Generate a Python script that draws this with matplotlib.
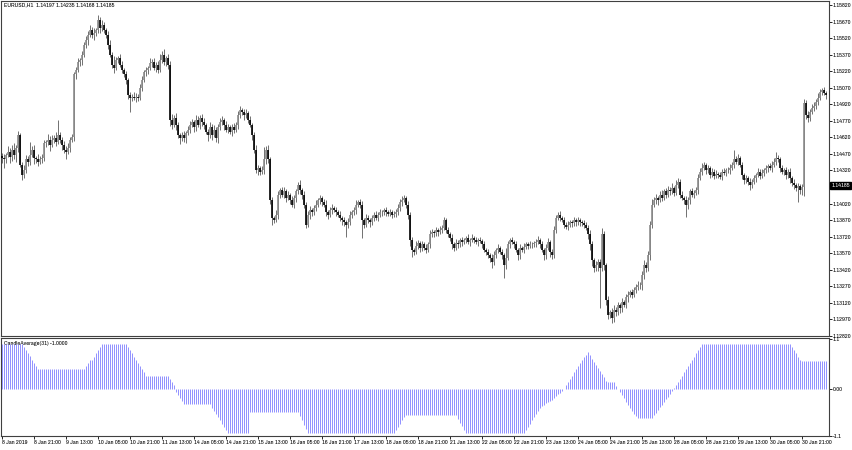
import numpy as np
import matplotlib
matplotlib.use("Agg")
import matplotlib.pyplot as plt
import matplotlib.transforms as mtransforms

# EURUSD H1, 8 Jan 2019 05:00 .. 31 Jan 2019, prices in pips above 1.1000
close_pips = [
    443, 442, 446, 449, 444, 451, 446, 452, 464, 437, 428, 432, 442, 440, 446, 451, 443, 442, 440, 442,
    443, 457, 458, 460, 455, 460, 461, 458, 464, 460, 455, 451, 449, 452, 460, 462, 519, 523, 530, 532,
    537, 546, 550, 555, 559, 555, 557, 559, 568, 561, 564, 559, 555, 546, 537, 528, 525, 532, 534, 528,
    523, 519, 514, 500, 498, 499, 498, 499, 498, 507, 514, 521, 523, 525, 529, 530, 525, 528, 523, 532,
    537, 530, 534, 528, 478, 473, 480, 473, 464, 461, 464, 461, 466, 469, 473, 476, 471, 478, 473, 480,
    476, 473, 467, 464, 471, 464, 469, 461, 471, 476, 478, 473, 469, 471, 467, 471, 469, 473, 482, 487,
    485, 482, 484, 478, 473, 464, 451, 432, 434, 431, 432, 442, 451, 442, 405, 389, 387, 392, 410, 414,
    410, 413, 407, 410, 405, 401, 407, 413, 419, 414, 410, 401, 383, 392, 396, 394, 398, 401, 405, 407,
    403, 401, 394, 392, 396, 398, 396, 394, 392, 389, 387, 385, 383, 385, 392, 394, 396, 401, 403, 401,
    387, 383, 389, 387, 385, 389, 392, 389, 392, 394, 394, 396, 394, 393, 394, 392, 393, 394, 398, 403,
    405, 407, 401, 392, 369, 360, 358, 364, 366, 362, 365, 362, 360, 365, 374, 376, 375, 378, 376, 378,
    380, 387, 378, 374, 371, 365, 362, 366, 365, 369, 367, 369, 371, 367, 369, 371, 369, 367, 369, 368,
    365, 360, 358, 355, 353, 349, 355, 360, 362, 358, 355, 346, 353, 365, 369, 367, 365, 360, 355, 362,
    360, 363, 365, 364, 365, 365, 366, 367, 369, 365, 360, 355, 362, 367, 358, 355, 378, 389, 392, 389,
    387, 383, 381, 383, 385, 384, 387, 385, 387, 385, 384, 383, 380, 374, 365, 351, 344, 346, 349, 344,
    374, 346, 315, 301, 304, 298, 306, 304, 310, 307, 313, 310, 317, 319, 322, 319, 324, 326, 328, 328,
    337, 346, 344, 355, 383, 401, 405, 407, 405, 410, 407, 413, 410, 414, 413, 416, 412, 419, 422, 410,
    407, 405, 401, 405, 413, 410, 412, 414, 425, 431, 434, 437, 432, 434, 428, 431, 427, 429, 428, 426,
    431, 430, 432, 432, 434, 437, 442, 440, 443, 437, 428, 423, 425, 422, 419, 422, 425, 428, 431, 427,
    430, 432, 434, 436, 434, 437, 440, 443, 442, 434, 431, 432, 428, 431, 425, 421, 419, 416, 418, 414,
    417, 493, 482, 480, 485, 489, 490, 494, 498, 503, 505, 502, 500,
]
first_open_pips = 445

upper_wick = [
    3, 4, 2, 5, 3, 4, 6, 3, 4, 2, 3, 5, 4, 3, 12, 3, 4, 2, 5, 3,
    4, 3, 2, 5, 3, 4, 3, 6, 14, 3, 2, 4, 3, 5, 2, 3, 2, 3, 4, 2,
    3, 2, 4, 3, 5, 3, 4, 2, 5, 3, 4, 3, 2, 3, 4, 2, 8, 3, 2, 4,
    3, 2, 3, 2, 3, 2, 4, 3, 2, 3, 4, 2, 3, 2, 5, 3, 4, 2, 3, 6,
    3, 5, 2, 4, 3, 5, 2, 4, 3, 2, 3, 4, 2, 3, 4, 3, 2, 4, 3, 2,
    3, 4, 2, 3, 5, 3, 4, 2, 3, 4, 3, 2, 4, 3, 2, 3, 4, 3, 4, 3,
    2, 3, 4, 2, 3, 2, 3, 4, 3, 2, 4, 11, 3, 4, 2, 3, 2, 4, 3, 2,
    3, 4, 2, 3, 2, 4, 3, 2, 3, 4, 2, 3, 2, 3, 4, 2, 3, 4, 2, 3,
    2, 3, 4, 2, 3, 4, 2, 3, 2, 3, 2, 3, 2, 4, 3, 2, 3, 4, 2, 3,
    3, 2, 4, 3, 2, 3, 2, 3, 2, 3, 2, 2, 3, 2, 3, 2, 2, 3, 4, 3,
    4, 3, 2, 3, 2, 3, 2, 4, 3, 2, 3, 2, 3, 2, 4, 3, 2, 3, 2, 4,
    3, 3, 2, 3, 2, 3, 2, 4, 3, 2, 3, 2, 2, 3, 2, 3, 2, 3, 2, 3,
    2, 3, 2, 3, 2, 3, 4, 2, 3, 2, 3, 2, 9, 3, 2, 3, 2, 3, 2, 3,
    2, 3, 2, 2, 3, 2, 2, 3, 4, 2, 3, 2, 3, 4, 2, 3, 4, 3, 2, 3,
    2, 3, 2, 3, 2, 2, 3, 2, 3, 2, 2, 3, 2, 3, 4, 3, 2, 4, 3, 3,
    6, 3, 2, 3, 2, 3, 4, 2, 3, 2, 3, 2, 3, 4, 2, 3, 2, 3, 4, 3,
    4, 5, 3, 4, 3, 5, 3, 4, 2, 3, 4, 2, 3, 4, 3, 5, 2, 4, 3, 2,
    3, 2, 4, 3, 2, 3, 2, 3, 4, 3, 5, 3, 2, 3, 2, 3, 2, 3, 2, 3,
    2, 3, 2, 3, 4, 3, 9, 3, 4, 2, 3, 2, 3, 2, 3, 2, 3, 2, 3, 2,
    3, 2, 3, 2, 3, 4, 3, 6, 3, 2, 3, 2, 3, 2, 3, 2, 3, 2, 3, 2,
    3, 4, 3, 4, 3, 3, 4, 3, 4, 3, 2, 3, 2,
]
lower_wick = [
    4, 8, 3, 2, 5, 3, 4, 6, 3, 2, 5, 3, 2, 4, 3, 2, 5, 3, 4, 2,
    3, 2, 4, 3, 5, 2, 3, 4, 2, 3, 4, 3, 7, 2, 3, 2, 3, 4, 2, 3,
    4, 2, 3, 4, 2, 3, 5, 3, 2, 4, 3, 2, 3, 4, 2, 3, 5, 2, 3, 2,
    3, 2, 4, 3, 13, 3, 2, 4, 3, 2, 3, 2, 3, 4, 2, 3, 2, 4, 3, 2,
    3, 2, 3, 4, 6, 3, 2, 4, 3, 5, 2, 3, 4, 2, 3, 2, 4, 3, 2, 3,
    4, 3, 2, 5, 3, 4, 2, 3, 4, 2, 3, 4, 2, 3, 2, 4, 3, 2, 3, 2,
    3, 4, 2, 3, 2, 4, 3, 2, 4, 3, 2, 3, 4, 3, 3, 6, 3, 2, 4, 3,
    2, 3, 4, 2, 3, 2, 3, 4, 2, 3, 4, 3, 3, 2, 4, 3, 2, 3, 2, 3,
    3, 2, 3, 4, 2, 3, 2, 3, 2, 3, 4, 3, 11, 3, 2, 3, 2, 3, 2, 3,
    16, 3, 2, 3, 4, 2, 3, 2, 3, 2, 3, 2, 3, 2, 2, 3, 2, 3, 2, 3,
    3, 2, 3, 4, 5, 6, 3, 2, 3, 4, 3, 2, 3, 2, 3, 2, 3, 2, 3, 2,
    3, 2, 3, 2, 3, 4, 3, 2, 3, 2, 3, 2, 3, 2, 3, 2, 3, 2, 3, 2,
    3, 2, 3, 2, 4, 5, 3, 2, 3, 2, 3, 11, 3, 2, 3, 2, 3, 2, 4, 3,
    2, 3, 2, 3, 2, 3, 2, 3, 2, 3, 2, 4, 3, 2, 4, 3, 2, 3, 2, 3,
    2, 3, 2, 3, 2, 3, 2, 3, 2, 3, 2, 3, 2, 4, 5, 6, 4, 3, 5, 37,
    3, 4, 5, 4, 3, 4, 3, 4, 3, 4, 3, 2, 3, 4, 2, 3, 2, 3, 2, 3,
    4, 3, 4, 3, 4, 3, 2, 3, 4, 2, 3, 2, 3, 2, 3, 2, 3, 2, 3, 3,
    2, 3, 11, 4, 3, 2, 3, 2, 3, 2, 3, 2, 3, 2, 3, 2, 3, 2, 3, 2,
    3, 2, 3, 2, 3, 2, 3, 2, 3, 2, 4, 3, 2, 3, 5, 3, 2, 3, 2, 3,
    2, 3, 2, 3, 2, 3, 2, 3, 2, 3, 2, 3, 4, 3, 4, 3, 4, 3, 13, 3,
    4, 8, 3, 4, 3, 2, 3, 2, 3, 2, 3, 2, 3,
]

# CandleAverage(31) histogram
indicator = [
    1.0, 1.0, 1.0, 1.0, 1.0, 1.0, 1.0, 1.0, 1.0, 1.0, 1.0, 0.93, 0.86, 0.79, 0.72, 0.64, 0.57, 0.50, 0.43, 0.43,
    0.43, 0.43, 0.43, 0.43, 0.43, 0.43, 0.43, 0.43, 0.43, 0.43, 0.43, 0.43, 0.43, 0.43, 0.43, 0.43, 0.43, 0.43, 0.43, 0.43,
    0.43, 0.43, 0.50, 0.57, 0.64, 0.64, 0.71, 0.79, 0.86, 0.93, 1.0, 1.0, 1.0, 1.0, 1.0, 1.0, 1.0, 1.0, 1.0, 1.0,
    1.0, 1.0, 1.0, 0.93, 0.86, 0.79, 0.71, 0.64, 0.57, 0.50, 0.43, 0.36, 0.29, 0.29, 0.29, 0.29, 0.29, 0.29, 0.29, 0.29,
    0.29, 0.29, 0.29, 0.29, 0.21, 0.14, 0.07, -0.07, -0.14, -0.21, -0.28, -0.35, -0.35, -0.35, -0.35, -0.35, -0.35, -0.35, -0.35, -0.35,
    -0.35, -0.35, -0.35, -0.35, -0.35, -0.43, -0.50, -0.57, -0.64, -0.71, -0.79, -0.86, -0.93, -1.0, -1.0, -1.0, -1.0, -1.0, -1.0, -1.0,
    -1.0, -1.0, -1.0, -1.0, -0.53, -0.53, -0.53, -0.53, -0.53, -0.53, -0.53, -0.53, -0.53, -0.53, -0.53, -0.53, -0.53, -0.53, -0.53, -0.53,
    -0.53, -0.53, -0.53, -0.53, -0.53, -0.53, -0.53, -0.53, -0.53, -0.62, -0.71, -0.81, -0.90, -1.0, -1.0, -1.0, -1.0, -1.0, -1.0, -1.0,
    -1.0, -1.0, -1.0, -1.0, -1.0, -1.0, -1.0, -1.0, -1.0, -1.0, -1.0, -1.0, -1.0, -1.0, -1.0, -1.0, -1.0, -1.0, -1.0, -1.0,
    -1.0, -1.0, -1.0, -1.0, -1.0, -1.0, -1.0, -1.0, -1.0, -1.0, -1.0, -1.0, -1.0, -1.0, -1.0, -1.0, -1.0, -0.93, -0.86, -0.79,
    -0.71, -0.64, -0.60, -0.60, -0.60, -0.60, -0.60, -0.60, -0.60, -0.60, -0.60, -0.60, -0.60, -0.60, -0.60, -0.60, -0.60, -0.60, -0.60, -0.60,
    -0.60, -0.60, -0.60, -0.60, -0.60, -0.60, -0.60, -0.60, -0.68, -0.76, -0.84, -0.92, -1.0, -1.0, -1.0, -1.0, -1.0, -1.0, -1.0, -1.0,
    -1.0, -1.0, -1.0, -1.0, -1.0, -1.0, -1.0, -1.0, -1.0, -1.0, -1.0, -1.0, -1.0, -1.0, -1.0, -1.0, -1.0, -1.0, -1.0, -1.0,
    -1.0, -1.0, -0.93, -0.86, -0.79, -0.71, -0.64, -0.57, -0.50, -0.43, -0.40, -0.36, -0.33, -0.30, -0.27, -0.25, -0.21, -0.17, -0.13, -0.09,
    -0.05, -0.02, 0.07, 0.14, 0.21, 0.29, 0.36, 0.43, 0.50, 0.57, 0.64, 0.71, 0.76, 0.81, 0.74, 0.67, 0.60, 0.53, 0.46, 0.39,
    0.32, 0.25, 0.18, 0.15, 0.15, 0.15, 0.15, 0.05, -0.02, -0.08, -0.15, -0.22, -0.29, -0.36, -0.43, -0.50, -0.57, -0.62, -0.66, -0.66,
    -0.66, -0.66, -0.66, -0.66, -0.66, -0.66, -0.60, -0.54, -0.48, -0.42, -0.36, -0.30, -0.24, -0.18, -0.12, -0.06, 0.02, 0.07, 0.14, 0.21,
    0.29, 0.36, 0.43, 0.50, 0.57, 0.64, 0.71, 0.79, 0.86, 0.93, 1.0, 1.0, 1.0, 1.0, 1.0, 1.0, 1.0, 1.0, 1.0, 1.0,
    1.0, 1.0, 1.0, 1.0, 1.0, 1.0, 1.0, 1.0, 1.0, 1.0, 1.0, 1.0, 1.0, 1.0, 1.0, 1.0, 1.0, 1.0, 1.0, 1.0,
    1.0, 1.0, 1.0, 1.0, 1.0, 1.0, 1.0, 1.0, 1.0, 1.0, 1.0, 1.0, 1.0, 1.0, 1.0, 0.93, 0.86, 0.79, 0.71, 0.64,
    0.61, 0.61, 0.61, 0.61, 0.61, 0.61, 0.61, 0.61, 0.61, 0.61, 0.61, 0.61, 0.61,
]

time_labels = ["8 Jan 2019", "8 Jan 21:00", "9 Jan 13:00", "10 Jan 05:00", "10 Jan 21:00",
               "11 Jan 13:00", "14 Jan 05:00", "14 Jan 21:00", "15 Jan 13:00", "16 Jan 05:00",
               "16 Jan 21:00", "17 Jan 13:00", "18 Jan 05:00", "18 Jan 21:00", "21 Jan 13:00",
               "22 Jan 05:00", "22 Jan 21:00", "23 Jan 13:00", "24 Jan 05:00", "24 Jan 21:00",
               "25 Jan 13:00", "28 Jan 05:00", "28 Jan 21:00", "29 Jan 13:00", "30 Jan 05:00",
               "30 Jan 21:00"]
price_labels = [1.15820, 1.15670, 1.15520, 1.15370, 1.15220, 1.15070, 1.14920, 1.14770,
                1.14620, 1.14470, 1.14320, 1.14020, 1.13870, 1.13720, 1.13570, 1.13420,
                1.13270, 1.13120, 1.12970, 1.12820]
last_price = 1.14185
header = "EURUSD,H1  1.14197 1.14235 1.14168 1.14185"
ind_name = "CandleAverage(31) -1.0000"

plt.rcParams['font.family'] = ['Archivo Narrow', 'DejaVu Sans']

# ---- prepare OHLC
c = 1.1 + np.array(close_pips) / 10000.0
o = np.concatenate([[1.1 + first_open_pips / 10000.0], c[:-1]])
h = np.maximum(o, c) + np.array(upper_wick) / 10000.0
l = np.minimum(o, c) - np.array(lower_wick) / 10000.0
x = np.arange(len(c))
bull = c >= o

W, H = 852, 450
fig = plt.figure(figsize=(W / 100, H / 100), dpi=100)
fig.patch.set_facecolor("white")
FS = 4.5

ax = fig.add_axes([1 / W, 1 - 336 / H, 828 / W, 335 / H])
ax2 = fig.add_axes([1 / W, 1 - 436 / H, 828 / W, 98 / H])

# candles
ax.vlines(x, l, h, colors="#5a5a5a", linewidth=0.6, zorder=2)
ax.vlines(x[bull], o[bull], c[bull], colors="#8c8c8c", linewidth=1.2, zorder=3)
ax.vlines(x[~bull], o[~bull], c[~bull], colors="#000000", linewidth=1.2, zorder=3)
ax.set_xlim(-0.5, len(c) + 0.5)
ax.set_ylim(1.12820, 1.15856)
ax.set_xticks([])
ax.yaxis.tick_right()
ax.set_yticks(price_labels)
ax.set_yticklabels(["%.5f" % p for p in price_labels])
ax.tick_params(axis="y", direction="out", length=2, width=0.6, pad=0.8,
               labelsize=FS, colors="black")
ax.text(0.004, 0.995, header, transform=ax.transAxes, ha="left", va="top", fontsize=FS)
trans = mtransforms.blended_transform_factory(ax.transAxes, ax.transData)
ax.text(1.003, last_price, "%.5f" % last_price, transform=trans, ha="left", va="center",
        fontsize=FS, color="white",
        bbox=dict(boxstyle="square,pad=0.2", facecolor="black", edgecolor="black"))

# indicator
ax2.vlines(x, 0, indicator, colors="#9393ff", linewidth=0.72, zorder=3)
ax2.text(0.004, 0.965, ind_name, transform=ax2.transAxes, ha="left", va="top",
         fontsize=FS, zorder=1)
ax2.set_xlim(-0.5, len(c) + 0.5)
ax2.set_ylim(-1.06, 1.13)
ax2.yaxis.tick_right()
ax2.set_yticks([1.1, 0.0, -1.06])
ax2.set_yticklabels(["1.1", "0.00", "-1.1"])
ax2.tick_params(axis="y", direction="out", length=2, width=0.6, pad=0.8, labelsize=FS)
ax2.set_xticks(np.arange(len(time_labels)) * 16)
ax2.set_xticklabels(time_labels, ha="left")
ax2.tick_params(axis="x", direction="out", length=2, width=0.6, pad=1.2, labelsize=FS)

for a in (ax, ax2):
    for s in a.spines.values():
        s.set_color("#404040")
        s.set_linewidth(0.8)

fig.savefig("out.png", dpi=100, facecolor="white")
